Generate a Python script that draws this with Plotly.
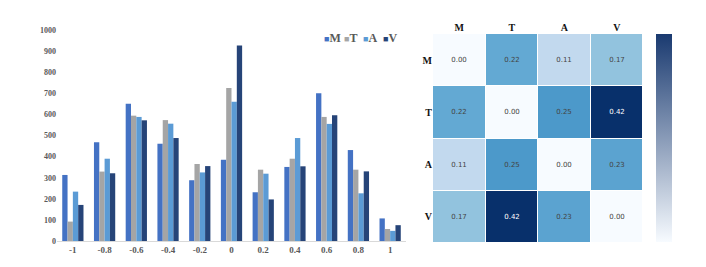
import plotly.graph_objects as go
import plotly.express as px

categories = ["-1", "-0.8", "-0.6", "-0.4", "-0.2", "0", "0.2", "0.4", "0.6", "0.8", "1"]
M = [313, 468, 651, 461, 288, 385, 231, 351, 700, 431, 107]
T = [92, 329, 594, 573, 365, 725, 338, 390, 588, 338, 57]
A = [234, 390, 588, 556, 325, 660, 319, 488, 555, 226, 48]
V = [171, 321, 572, 488, 355, 927, 197, 354, 596, 330, 75]
y_ticks = [0, 100, 200, 300, 400, 500, 600, 700, 800, 900, 1000]

labels = ["M", "T", "A", "V"]
corr = [
    [0.00, 0.22, 0.11, 0.17],
    [0.22, 0.00, 0.25, 0.42],
    [0.11, 0.25, 0.00, 0.23],
    [0.17, 0.42, 0.23, 0.00],
]

colors = {"M": "#4472c4", "T": "#a5a5a5", "A": "#5b9bd5", "V": "#264478"}
serif = "Liberation Serif"

# page body has an 8px margin; keep the figure inside the window
OFF = 8
W, H = 706 - 2 * OFF, 267 - 2 * OFF


def fx(p):
    return (p - OFF) / W


def fy(p):
    return 1 - (p - OFF) / H


fig = go.Figure()
for name, vals in zip(labels, [M, T, A, V]):
    fig.add_trace(go.Bar(x=categories, y=vals, name=name, marker_color=colors[name],
                         marker_line_width=0, xaxis="x", yaxis="y", showlegend=False))

blues = px.colors.sequential.Blues
fig.add_trace(go.Heatmap(
    z=corr, x=labels, y=labels, colorscale=blues, zmin=0, zmax=0.42,
    showscale=False, xgap=1, ygap=1, xaxis="x2", yaxis="y2",
    texttemplate="%{z:.2f}", textfont=dict(size=7, family="DejaVu Sans"),
    hoverinfo="skip"))

# separate colorbar
fig.add_trace(go.Scatter(
    x=[None], y=[None], mode="markers", xaxis="x2", yaxis="y2", showlegend=False,
    marker=dict(color=[0, 0.42], cmin=0, cmax=0.42,
                colorscale=[[0, "#f7fbff"], [1, "#1a3a70"]], showscale=True,
                colorbar=dict(x=fx(656), xanchor="left", y=fy(34), yanchor="top",
                              len=(242 - 34) / H, lenmode="fraction", thickness=16,
                              outlinewidth=0, showticklabels=False, ticks="", xpad=0, ypad=0))))

# legend built as annotations (compact, like the reference)
legend_x = [322, 342, 361, 381]
annotations = []
for lx, name in zip(legend_x, labels):
    annotations.append(dict(
        x=fx(lx), y=fy(38), xref="paper", yref="paper", xanchor="left", yanchor="middle",
        showarrow=False,
        text=f"<span style='color:{colors[name]};font-size:9px'>■</span><b>{name}</b>",
        font=dict(family=serif, size=12, color="#595959")))

fig.update_layout(
    width=W, height=H, margin=dict(l=0, r=0, t=0, b=0, autoexpand=False),
    paper_bgcolor="white", plot_bgcolor="white",
    barmode="group", bargap=0.33, bargroupgap=0,
    font=dict(family=serif, color="#595959"),
    showlegend=False,
    annotations=annotations,
    xaxis=dict(domain=[fx(57), fx(406)], showgrid=False, showline=True, linecolor="#d9d9d9",
               linewidth=1, ticks="", automargin=False,
               tickfont=dict(family=serif, size=9, color="#595959", weight="bold"),
               anchor="y"),
    yaxis=dict(domain=[fy(241), fy(30)], range=[0, 1000], tickvals=y_ticks,
               showgrid=False, showline=False, zeroline=False, ticks="", automargin=False,
               tickfont=dict(family=serif, size=8, color="#595959", weight="bold"), anchor="x"),
    xaxis2=dict(domain=[fx(433), fx(643)], side="top", showgrid=False, zeroline=False,
                ticks="", automargin=False,
                tickfont=dict(family=serif, size=10, color="#111", weight="bold"),
                anchor="y2", showline=False),
    yaxis2=dict(domain=[fy(243), fy(34)], autorange="reversed", showgrid=False,
                zeroline=False, ticks="", automargin=False,
                tickfont=dict(family=serif, size=10, color="#111", weight="bold"),
                anchor="x2", showline=False),
)

fig.write_html("out.html")
